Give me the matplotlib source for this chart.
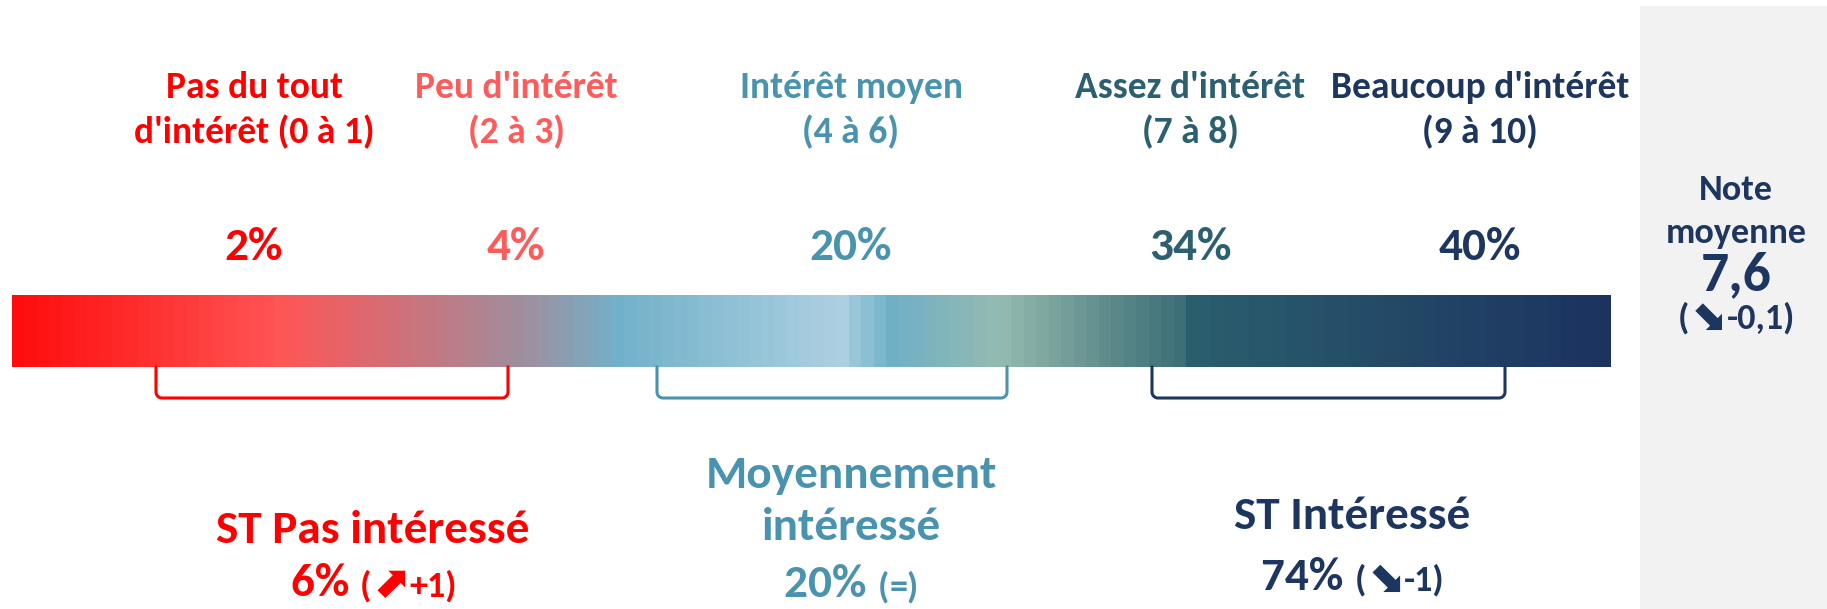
import matplotlib
matplotlib.use("Agg")
import matplotlib.pyplot as plt
import numpy as np
from matplotlib.colors import LinearSegmentedColormap

# ---------------- data ----------------
categories = ["Pas du tout\nd'intérêt (0 à 1)", "Peu d'intérêt\n(2 à 3)", "Intérêt moyen\n(4 à 6)",
              "Assez d'intérêt\n(7 à 8)", "Beaucoup d'intérêt\n(9 à 10)"]
shares = [2, 4, 20, 34, 40]
group_names = ["ST Pas intéressé", "Moyennement\nintéressé", "ST Intéressé"]
group_values = [6, 20, 74]
group_arrows = ["\u2b08", "", "\u2b0a"]
group_changes = ["+1", "=", "-1"]
mean_score = "7,6"
mean_arrow = "\u2b0a"
mean_change = "-0,1"

# ---------------- style ----------------
FAM = ["Carlito", "DejaVu Sans"]
cat_colors = ["#FF0000", "#FF5B5B", "#4A93AE", "#2C5F6F", "#1D365E"]
grp_colors = ["#FF0000", "#4A93AE", "#1D3660"]
cat_x = [254, 516, 851, 1190, 1480]
bracket_x = [(156, 508), (657, 1007), (1152, 1505)]
grp_x = [373, 851, 1352]
grp_title_y = [530, (475, 527), 516]
grp_val_y = [596, 597, 590]

W, H = 1827, 609
fig = plt.figure(figsize=(W / 100, H / 100), dpi=100)
ax = fig.add_axes([0, 0, 1, 1])
ax.set_xlim(0, W)
ax.set_ylim(H, 0)
ax.axis("off")

# right panel
ax.add_patch(plt.Rectangle((1640, 6), W - 1640, H - 6, color="#F2F2F2", lw=0, zorder=0))

# gradient bar
stops = [(12, "#FF0D0D"), (275, "#FF5555"), (517, "#A08E9C"), (617, "#72B1CA"),
         (850, "#AFD1E2"), (854, "#9BC8D9"), (878, "#80BBCF"), (892, "#70B0C8"),
         (1003, "#95BBB0"), (1100, "#64908F"), (1186, "#3C6E78"), (1190, "#2B5F6E"),
         (1611, "#1C3360")]
x0b, x1b = 12, 1611
cmap = LinearSegmentedColormap.from_list(
    "g", [((p - x0b) / (x1b - x0b), c) for p, c in stops], N=1024)
nb = 128
img = cmap(np.linspace(0, 1, nb))[None, :, :3]
ax.imshow(img, extent=(x0b, x1b, 367, 295), aspect="auto", interpolation="nearest", zorder=1)

# category labels and shares
for i, (lab, val) in enumerate(zip(categories, shares)):
    l1, l2 = lab.split("\n")
    ax.text(cat_x[i], 87, l1, ha="center", va="center", fontsize=27, fontweight="bold",
            color=cat_colors[i], family=FAM)
    ax.text(cat_x[i], 132, l2, ha="center", va="center", fontsize=27, fontweight="bold",
            color=cat_colors[i], family=FAM)
    ax.text(cat_x[i], 247, f"{val}%", ha="center", va="center", fontsize=34, fontweight="bold",
            color=cat_colors[i], family=FAM)

# brackets
r = 6
for (xa, xb), c in zip(bracket_x, grp_colors):
    t = np.linspace(0, np.pi / 2, 12)
    lx = np.r_[xa, xa + r - r * np.cos(t)]
    ly = np.r_[367, 398 - r + r * np.sin(t)]
    rx = np.r_[xb - r + r * np.cos(t[::-1]), xb][::-1]
    ry = np.r_[398 - r + r * np.sin(t[::-1]), 367][::-1]
    ax.plot(np.r_[lx, rx[::-1]], np.r_[ly, ry[::-1]], color=c, lw=2.2)

fig.canvas.draw()
renderer = fig.canvas.get_renderer()


def rich(x, y, pieces, color):
    """pieces: list of (text, size, dy); centred horizontally at x, baseline y"""
    arts = []
    for t, s, dy in pieces:
        a = ax.text(0, y + dy, t, ha="left", va="baseline", fontsize=s, fontweight="bold",
                    color=color, family=FAM)
        arts.append(a)
    widths = [a.get_window_extent(renderer).width for a in arts]
    total = sum(widths)
    cur = x - total / 2
    for a, w in zip(arts, widths):
        a.set_x(cur)
        cur += w + 0.5


for k, name in enumerate(group_names):
    c = grp_colors[k]
    lines = name.split("\n")
    ys = grp_title_y[k] if len(lines) > 1 else [grp_title_y[k]]
    for ln, yy in zip(lines, ys):
        ax.text(grp_x[k], yy, ln, ha="center", va="center", fontsize=34,
                fontweight="bold", color=c, family=FAM)
    pieces = [(f"{group_values[k]}% ", 34, 0), ("(", 26, 0)]
    if group_arrows[k]:
        pieces.append((group_arrows[k], 32, 1))
    pieces += [(group_changes[k] + ")", 26, 0)]
    rich(grp_x[k], grp_val_y[k], pieces, c)

# mean score panel
navy = "#1D3660"
ax.text(1736, 190, "Note", ha="center", va="center", fontsize=26, fontweight="bold",
        color=navy, family=FAM)
ax.text(1736, 233, "moyenne", ha="center", va="center", fontsize=26, fontweight="bold",
        color=navy, family=FAM)
ax.text(1736, 275, mean_score, ha="center", va="center", fontsize=40, fontweight="bold",
        color=navy, family=FAM)
rich(1736, 328, [("(", 26, 0), (mean_arrow, 31, 1), (mean_change + ")", 26, 0)], navy)

fig.savefig("out.png", dpi=100)
